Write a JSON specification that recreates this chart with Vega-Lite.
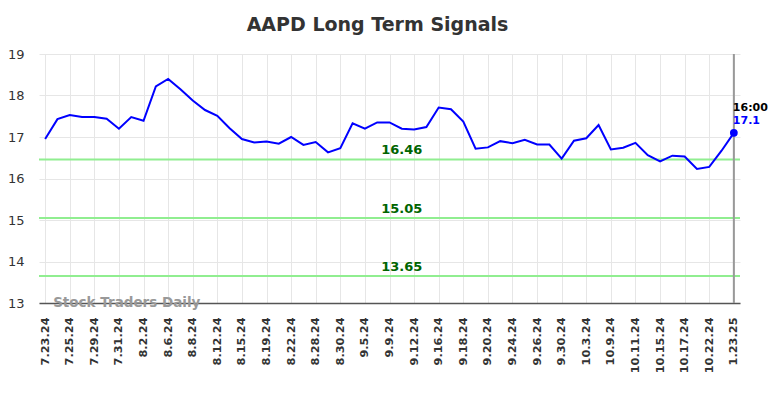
{
  "$schema": "https://vega.github.io/schema/vega-lite/v6.json",
  "autosize": {"type": "none"},
  "width": 701,
  "height": 249,
  "padding": {"left": 39, "top": 54, "right": 44, "bottom": 95},
  "background": "white",
  "title": {"text": "AAPD Long Term Signals", "fontSize": 19, "font": "DejaVu Sans", "fontWeight": "bold", "color": "#333333", "anchor": "middle", "offset": 13, "dx": -12},
  "config": {
    "view": {"stroke": null},
    "font": "DejaVu Sans"
  },
  "datasets": {
    "prices": [
      {"date": "7.23.24", "price": 16.95}, {"date": "7.24.24", "price": 17.43}, {"date": "7.25.24", "price": 17.53}, {"date": "7.26.24", "price": 17.48},
      {"date": "7.29.24", "price": 17.48}, {"date": "7.30.24", "price": 17.44}, {"date": "7.31.24", "price": 17.20}, {"date": "8.1.24", "price": 17.48},
      {"date": "8.2.24", "price": 17.39}, {"date": "8.5.24", "price": 18.22}, {"date": "8.6.24", "price": 18.40}, {"date": "8.7.24", "price": 18.15},
      {"date": "8.8.24", "price": 17.88}, {"date": "8.9.24", "price": 17.65}, {"date": "8.12.24", "price": 17.51}, {"date": "8.13.24", "price": 17.21},
      {"date": "8.15.24", "price": 16.95}, {"date": "8.16.24", "price": 16.87}, {"date": "8.19.24", "price": 16.89}, {"date": "8.20.24", "price": 16.84},
      {"date": "8.22.24", "price": 17.00}, {"date": "8.23.24", "price": 16.81}, {"date": "8.28.24", "price": 16.88}, {"date": "8.29.24", "price": 16.63},
      {"date": "8.30.24", "price": 16.73}, {"date": "9.3.24", "price": 17.33}, {"date": "9.5.24", "price": 17.20}, {"date": "9.6.24", "price": 17.35},
      {"date": "9.9.24", "price": 17.35}, {"date": "9.10.24", "price": 17.20}, {"date": "9.12.24", "price": 17.18}, {"date": "9.13.24", "price": 17.24},
      {"date": "9.16.24", "price": 17.71}, {"date": "9.17.24", "price": 17.67}, {"date": "9.18.24", "price": 17.37}, {"date": "9.19.24", "price": 16.72},
      {"date": "9.20.24", "price": 16.75}, {"date": "9.23.24", "price": 16.90}, {"date": "9.24.24", "price": 16.85}, {"date": "9.25.24", "price": 16.93},
      {"date": "9.26.24", "price": 16.82}, {"date": "9.27.24", "price": 16.82}, {"date": "9.30.24", "price": 16.48}, {"date": "10.1.24", "price": 16.91},
      {"date": "10.3.24", "price": 16.97}, {"date": "10.4.24", "price": 17.29}, {"date": "10.9.24", "price": 16.70}, {"date": "10.10.24", "price": 16.74},
      {"date": "10.11.24", "price": 16.86}, {"date": "10.14.24", "price": 16.56}, {"date": "10.15.24", "price": 16.41}, {"date": "10.16.24", "price": 16.55},
      {"date": "10.17.24", "price": 16.53}, {"date": "10.18.24", "price": 16.23}, {"date": "10.22.24", "price": 16.28}, {"date": "10.23.24", "price": 16.67},
      {"date": "1.23.25", "price": 17.10}
    ],
    "levels": [{"level": 16.46}, {"level": 15.05}, {"level": 13.65}]
  },
  "encoding": {
    "x": {
      "field": "date", "type": "ordinal", "sort": null,
      "scale": {"type": "point", "padding": 0.5,
        "domain": ["7.23.24","7.24.24","7.25.24","7.26.24","7.29.24","7.30.24","7.31.24","8.1.24","8.2.24","8.5.24","8.6.24","8.7.24","8.8.24","8.9.24","8.12.24","8.13.24","8.15.24","8.16.24","8.19.24","8.20.24","8.22.24","8.23.24","8.28.24","8.29.24","8.30.24","9.3.24","9.5.24","9.6.24","9.9.24","9.10.24","9.12.24","9.13.24","9.16.24","9.17.24","9.18.24","9.19.24","9.20.24","9.23.24","9.24.24","9.25.24","9.26.24","9.27.24","9.30.24","10.1.24","10.3.24","10.4.24","10.9.24","10.10.24","10.11.24","10.14.24","10.15.24","10.16.24","10.17.24","10.18.24","10.22.24","10.23.24","1.23.25"]},
      "axis": {
        "title": null,
        "values": ["7.23.24","7.25.24","7.29.24","7.31.24","8.2.24","8.6.24","8.8.24","8.12.24","8.15.24","8.19.24","8.22.24","8.28.24","8.30.24","9.5.24","9.9.24","9.12.24","9.16.24","9.18.24","9.20.24","9.24.24","9.26.24","9.30.24","10.3.24","10.9.24","10.11.24","10.15.24","10.17.24","10.22.24","1.23.25"],
        "labelAngle": -90, "labelFontSize": 11.3, "labelFontWeight": "bold", "labelColor": "#333333",
        "labelPadding": 14, "ticks": false, "domainColor": "#555555", "domainWidth": 1.5,
        "grid": true, "gridColor": "#e6e6e6", "gridWidth": 1
      }
    }
  },
  "layer": [
    {
      "data": {"name": "levels"},
      "mark": {"type": "rule", "color": "#90ee90", "strokeWidth": 2},
      "encoding": {
        "x": null,
        "y": {"field": "level", "type": "quantitative", "scale": {"domain": [13, 19], "nice": false, "zero": false},
          "axis": {"title": null, "values": [13, 14, 15, 16, 17, 18, 19], "domain": false, "ticks": false, "labelPadding": 15, "labelFontSize": 13, "labelColor": "#333333", "gridColor": "#e6e6e6", "grid": true}}
      }
    },
    {
      "data": {"name": "levels"},
      "mark": {"type": "text", "color": "#006400", "fontWeight": "bold", "fontSize": 13, "baseline": "bottom", "dy": -2},
      "encoding": {
        "x": {"datum": "9.10.24"},
        "y": {"field": "level", "type": "quantitative"},
        "text": {"field": "level", "type": "quantitative", "format": ".2f"}
      }
    },
    {
      "data": {"name": "prices"},
      "mark": {"type": "line", "color": "#0000ff", "strokeWidth": 2},
      "encoding": {
        "y": {"field": "price", "type": "quantitative"}
      }
    },
    {
      "data": {"name": "prices"},
      "transform": [{"filter": "datum.date === '1.23.25'"}],
      "mark": {"type": "rule", "color": "#999999", "strokeWidth": 2},
      "encoding": {}
    },
    {
      "data": {"name": "prices"},
      "transform": [{"filter": "datum.date === '1.23.25'"}],
      "mark": {"type": "point", "filled": true, "color": "#0000ff", "size": 60, "opacity": 1},
      "encoding": {"y": {"field": "price", "type": "quantitative"}}
    },
    {
      "data": {"name": "prices"},
      "transform": [{"filter": "datum.date === '1.23.25'"}],
      "mark": {"type": "text", "color": "#0000ff", "fontWeight": "bold", "fontSize": 11, "align": "left", "baseline": "bottom", "dx": -1, "dy": -7},
      "encoding": {"y": {"field": "price", "type": "quantitative"}, "text": {"field": "price", "type": "quantitative", "format": ".1f"}}
    },
    {
      "data": {"name": "prices"},
      "transform": [{"filter": "datum.date === '1.23.25'"}],
      "mark": {"type": "text", "color": "#000000", "fontWeight": "bold", "fontSize": 11, "align": "left", "baseline": "bottom", "dx": -1, "dy": -20, "text": "16:00"},
      "encoding": {"y": {"field": "price", "type": "quantitative"}}
    },
    {
      "data": {"values": [{"label": "Stock Traders Daily"}]},
      "mark": {"type": "text", "color": "#999999", "fontWeight": "bold", "fontSize": 13.5, "align": "left", "baseline": "middle", "dx": 8},
      "encoding": {
        "x": {"datum": "7.23.24"},
        "y": {"datum": 13},
        "text": {"field": "label", "type": "nominal"}
      }
    }
  ]
}
